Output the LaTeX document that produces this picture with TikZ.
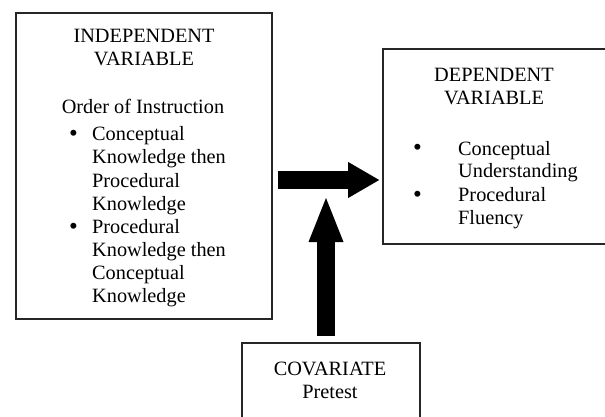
\documentclass[tikz,border=0pt]{standalone}
\usepackage{fontspec}
\setmainfont{Liberation Serif}
\usetikzlibrary{arrows.meta,calc}
\tikzset{
  box/.style={draw=black!85, line width=1.6pt, inner sep=0pt},
  txt/.style={anchor=base, inner sep=0pt, font=\fontsize{20.3}{23}\selectfont},
  ltxt/.style={txt, anchor=base west},
  bul/.style={anchor=base west, inner sep=0pt, font=\fontsize{25}{23}\selectfont},
  bigarrow/.style={line width=18.5pt, draw=black},
}
\begin{document}
\begin{tikzpicture}[x=1pt,y=-1pt]
\clip (0,0) rectangle (605,417);
\fill[white] (0,0) rectangle (605,417);
% boxes
\node[box, minimum width=256pt, minimum height=306pt] (iv) at (144,166) {};
\node[box, minimum width=240pt, minimum height=195pt] (dv) at (503,146.5) {};
\node[box, minimum width=178pt, minimum height=120pt] (cov) at (331,403) {};
% independent variable text
\node[txt] (t1) at (144,43) {INDEPENDENT};
\node[txt] (t2) at (144,66) {VARIABLE};
\node[txt] (t3) at (143,114) {Order of Instruction};
\node[bul] (b1) at (69,142) {\textbullet};
\node[ltxt] (a1) at (92,141) {Conceptual};
\node[ltxt] (a2) at (92,164) {Knowledge then};
\node[ltxt] (a3) at (92,187) {Procedural};
\node[ltxt] (a4) at (92,210) {Knowledge};
\node[bul] (b2) at (69,234) {\textbullet};
\node[ltxt] (a5) at (92,233) {Procedural};
\node[ltxt] (a6) at (92,256) {Knowledge then};
\node[ltxt] (a7) at (92,279) {Conceptual};
\node[ltxt] (a8) at (92,302) {Knowledge};
% dependent variable text
\node[txt] (d1) at (494,82) {DEPENDENT};
\node[txt] (d2) at (494,105) {VARIABLE};
\node[bul] (db1) at (413,156) {\textbullet};
\node[ltxt] (e1) at (458,155) {Conceptual};
\node[ltxt] (e2) at (458,178) {Understanding};
\node[bul] (db2) at (413,202) {\textbullet};
\node[ltxt] (e3) at (458,201) {Procedural};
\node[ltxt] (e4) at (458,224) {Fluency};
% covariate text
\node[txt] (c1) at (330,375) {COVARIATE};
\node[txt] (c2) at (330,398) {Pretest};
% arrows
\coordinate (hy) at (0,180);
\coordinate (vtip) at (326,198);
\draw[bigarrow, -{Triangle[length=31pt,width=36pt,line width=0pt]}]
  ($(iv.east |- hy)+(5,0)$) -- ($(dv.west |- hy)+(-3,0)$);
\draw[bigarrow, -{Triangle[length=44pt,width=35pt,line width=0pt]}]
  ($(vtip |- cov.north)+(0,-6)$) -- (vtip);
\end{tikzpicture}
\end{document}
